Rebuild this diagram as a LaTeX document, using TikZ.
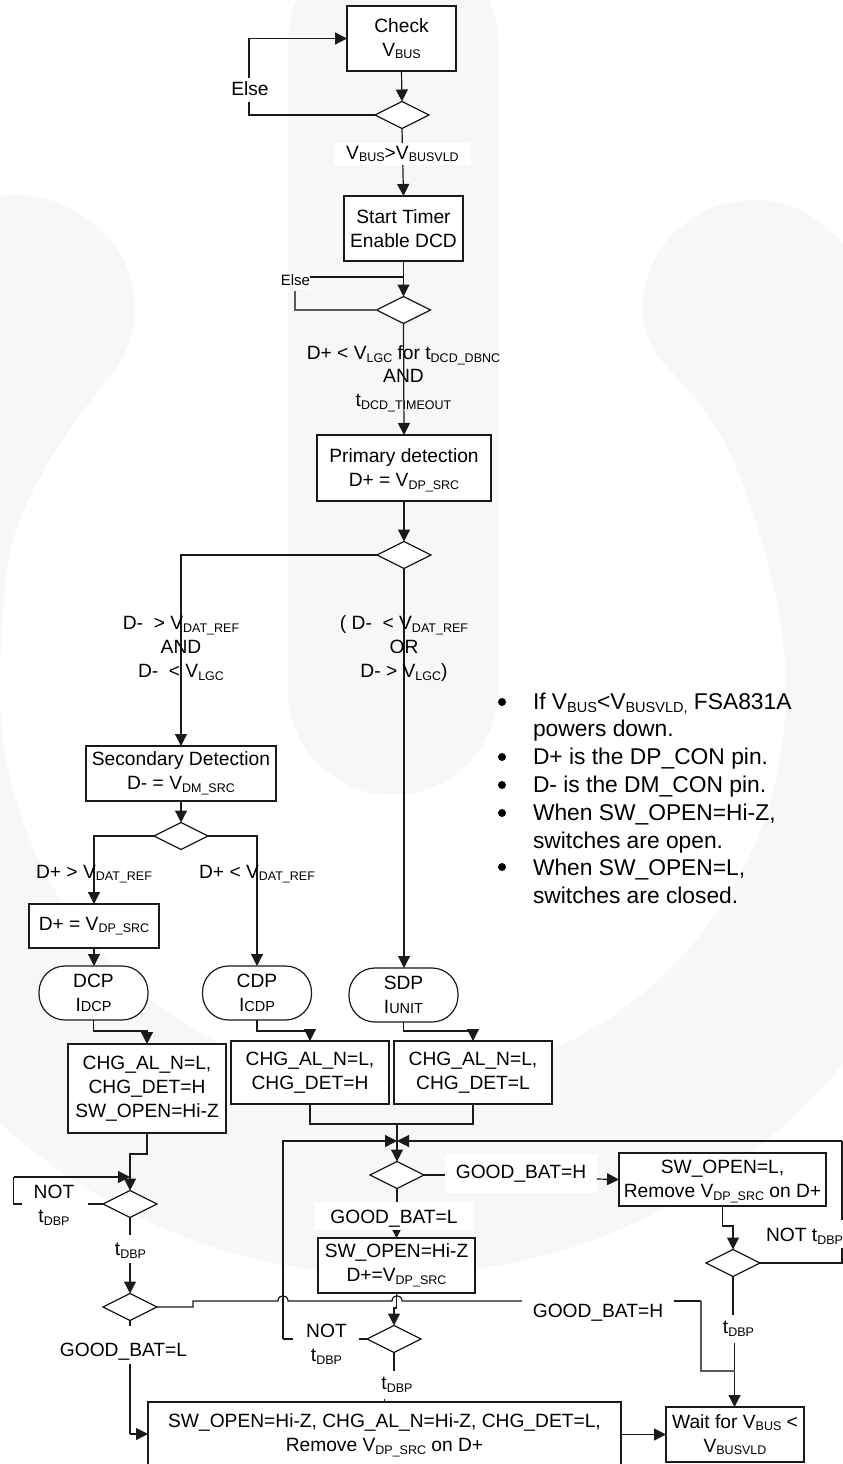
\documentclass[tikz,border=0pt]{standalone}
\usepackage{fontspec}
\setmainfont{Liberation Sans}
\usetikzlibrary{arrows.meta,shapes.geometric}
\definecolor{wm}{HTML}{F7F7F7}
\definecolor{ink}{HTML}{1A1A1A}
\newcommand\lo[1]{\raisebox{-2.6pt}{\fontsize{12.5}{12}\selectfont #1}}
\newcommand\loB[1]{\raisebox{-3pt}{\fontsize{14.5}{12}\selectfont #1}}
\newcommand\cur[1]{{\fontsize{14.5}{12}\selectfont #1}}
\newcommand\dn{\rule{0pt}{18pt}}
\tikzset{
  x=1pt,y=-1pt,
  every node/.style={font=\fontsize{19.2}{24}\selectfont,text=black,align=center,inner sep=0pt,outer sep=0pt},
  boxn/.style={draw=ink,fill=white,line width=1.2pt,rectangle},
  dec/.style={draw=ink,fill=white,line width=1.2pt,diamond,aspect=2,minimum width=54pt,minimum height=27pt},
  term/.style={draw=ink,fill=white,line width=1.2pt,rectangle,rounded corners=26pt,minimum width=109pt,minimum height=54pt},
  conn/.style={draw=ink,line width=1.2pt},
  arr/.style={conn,-{Triangle[length=12pt,width=12pt]}},
  arrs/.style={conn,-{Triangle[length=8pt,width=8pt]}},
  graycon/.style={draw=black!65,line width=1.2pt},
  patch/.style={fill=white,rectangle},
  txt/.style={anchor=center},
  bul/.style={anchor=base west,font=\fontsize{22.8}{26}\selectfont},
  dotb/.style={circle,fill=black,minimum size=8pt},
}
\begin{document}
\begin{tikzpicture}
\useasboundingbox (0,0) rectangle (843,1464);
\begin{scope}
\clip (0,0) rectangle (843,1464);
\fill[white] (0,0) rectangle (843,1464);
% watermark: power symbol
\fill[wm] (-192,197) -- (-5,197) .. controls (40,185) and (135,220) .. (135,310)
  .. controls (135,340) and (120,365) .. (107,380)
  .. controls (70,425) and (25,490) .. (10,550)
  .. controls (3,590) and (0,640) .. (0,690)
  .. controls (0,907) and (176,1083) .. (393,1083)
  .. controls (610,1083) and (786,907) .. (786,690)
  .. controls (786,600) and (750,490) .. (720,433)
  .. controls (705,410) and (685,385) .. (667,367)
  .. controls (650,348) and (643,330) .. (643,307)
  .. controls (643,245) and (695,200) .. (757,200)
  .. controls (795,200) and (825,222) .. (850,252)
  -- (978,252) -- (978,690)
  .. controls (978,1013) and (716,1275) .. (393,1275)
  .. controls (70,1275) and (-192,1013) .. (-192,690) -- cycle;
\fill[wm] (288,42) .. controls (288,-16) and (335,-63) .. (393,-63)
  .. controls (451,-63) and (498,-16) .. (498,42) -- (498,690)
  .. controls (498,748) and (451,795) .. (393,795)
  .. controls (335,795) and (288,748) .. (288,690) -- cycle;

% boxes and decisions
\node[boxn,minimum width=109pt,minimum height=65pt] (check) at (401.5,38.5) {Check\\V\lo{BUS}};
\node[dec] (d1) at (402,115) {};
\node[boxn,minimum width=119pt,minimum height=65pt] (start) at (403.5,228.5) {Start Timer\\Enable DCD};
\node[dec] (d2) at (403.5,310) {};
\node[boxn,minimum width=174pt,minimum height=66pt] (prim) at (404,468) {\dn Primary detection\\D+ = V\lo{DP\_SRC}};
\node[dec] (d3) at (404,555) {};
\node[boxn,minimum width=190pt,minimum height=55pt] (sec) at (181,773.5) {Secondary Detection\\D- = V\lo{DM\_SRC}};
\node[dec] (d4) at (181,836) {};
\node[boxn,minimum width=130pt,minimum height=44pt] (dpsrc) at (94,926) {D+ = V\lo{DP\_SRC}};
\node[term] (dcp) at (93.5,993) {DCP\\I\cur{DCP}};
\node[term] (cdp) at (257,993) {CDP\\I\cur{CDP}};
\node[term] (sdp) at (403.5,995) {SDP\\I\cur{UNIT}};
\node[boxn,minimum width=158pt,minimum height=89pt] (b1) at (147,1088.5) {CHG\_AL\_N=L,\\CHG\_DET=H\\SW\_OPEN=Hi-Z};
\node[boxn,minimum width=158pt,minimum height=63pt] (b2) at (310,1072.5) {CHG\_AL\_N=L,\\CHG\_DET=H};
\node[boxn,minimum width=158pt,minimum height=63pt] (b3) at (473,1072.5) {CHG\_AL\_N=L,\\CHG\_DET=L};
\node[dec] (d5) at (397,1175) {};
\node[boxn,minimum width=207pt,minimum height=53pt] (swl) at (722.5,1179.5) {\dn SW\_OPEN=L,\\Remove V\lo{DP\_SRC} on D+};
\node[dec] (d6) at (733,1263) {};
\node[boxn,minimum width=157pt,minimum height=55pt] (swz) at (396.5,1265.5) {SW\_OPEN=Hi-Z\\D+=V\lo{DP\_SRC}};
\node[dec] (d8) at (130,1204) {};
\node[dec] (d7) at (130,1307) {};
\node[dec] (d9) at (394,1339) {};
\node[boxn,minimum width=473pt,minimum height=66pt] (bot) at (384.5,1435) {SW\_OPEN=Hi-Z, CHG\_AL\_N=Hi-Z, CHG\_DET=L,\\Remove V\lo{DP\_SRC} on D+};
\node[boxn,minimum width=138pt,minimum height=55pt] (wait) at (735,1434.5) {Wait for V\lo{BUS} <\\V\lo{BUSVLD}};

% routing points
\coordinate (e1a) at (249,102);
\coordinate (e1b) at (249,78);
\coordinate (e1c) at (249,38.5);
\coordinate (e2a) at (295,291);
\coordinate (e2b) at (295,310);
\coordinate (e2c) at (309,277);
\coordinate (e2d) at (403.5,277);
\coordinate (merge) at (397,1124);
\coordinate (ret) at (397,1141);
\coordinate (retL) at (283,1141);
\coordinate (retR) at (842,1141);
\coordinate (nr1) at (842,1220);
\coordinate (nr2) at (842,1248);
\coordinate (nr3) at (842,1263);
\coordinate (nl1) at (88,1204);
\coordinate (nl2) at (22,1204);
\coordinate (nl3) at (13.5,1204);
\coordinate (nl4) at (13.5,1177);
\coordinate (nl5) at (130,1177);
\coordinate (nm1) at (359,1339);
\coordinate (nm2) at (293,1339);
\coordinate (nm3) at (283,1339);
\coordinate (t8a) at (130,1235);
\coordinate (t8b) at (130,1263);
\coordinate (gla) at (130,1326);
\coordinate (glb) at (130,1364);
\coordinate (glc) at (130,1434);
\coordinate (t9a) at (394,1371);
\coordinate (t9b) at (384.5,1399);
\coordinate (t9c) at (384.5,1402);
\coordinate (t6a) at (733,1315);
\coordinate (t6b) at (734.5,1343);
\coordinate (gw) at (734.5,1371);
\coordinate (gh1) at (193,1307);
\coordinate (gh2) at (193,1301);
\coordinate (gh3) at (278,1301);
\coordinate (gh4) at (288,1301);
\coordinate (gh5) at (392,1301);
\coordinate (gh6) at (402,1301);
\coordinate (gh7) at (522,1301);
\coordinate (gh8) at (674,1301);
\coordinate (gh9) at (701,1301);
\coordinate (gh10) at (701,1371);

% connectors
\draw[arr] (check.south) -- (d1.north);
\draw[conn] (d1.west) -- (e1a |- d1.west) -- (e1a);
\draw[arr] (e1b) -- (e1c) -- (check.west |- e1c);
\draw[arr] (d1.south) -- (start.north);
\draw[arr] (start.south) -- (d2.north);
\draw[conn] (e2c) -- (e2d);
\draw[graycon] (e2a) -- (e2b) -- (d2.west);
\draw[arr] (d2.south) -- (prim.north);
\draw[arr] (prim.south) -- (d3.north);
\draw[arr] (d3.west) -| (sec.north);
\draw[arr] (d3.south) -- (sdp.north -| d3.south);
\draw[arr] (sec.south) -- (d4.north);
\draw[arr] (d4.west) -| (dpsrc.north);
\draw[arr] (d4.east) -| (cdp.north);
\draw[arr] (dpsrc.south) -- (dcp.north -| dpsrc.south);
\draw[arr] (dcp.south) -- ++(0,11) -| (b1.north);
\draw[arr] (cdp.south) -- ++(0,11) -| (b2.north);
\draw[arr] (sdp.south) -- ++(0,9) -| (b3.north);
\draw[conn] (b2.south) |- (merge) -| (b3.south);
\draw[arr] (merge) -- (d5.north);
\draw[arr] (nm3) -- (retL) -- (ret);
\draw[arr] (retR) -- (ret);
\draw[conn] (nr1) -- (retR);
\draw[conn] (d6.east) -- (nr3) -- (nr2);
\draw[conn] (nm1) -- (d9.west);
\draw[conn] (nm2) -- (nm3);
\draw[arr] (b1.south) -- ++(0,21) -| (d8.north);
\draw[conn] (d8.west) -- (nl1);
\draw[conn] (nl2) -- (nl3) -- (nl4);
\draw[arr] (nl4) -- (nl5);
\draw[conn] (d8.south) -- (t8a);
\draw[arr] (t8b) -- (d7.north);
\draw[conn] (d7.south) -- (gla);
\draw[conn] (glb) -- (glc);
\draw[arr] (glc) -- (bot.west |- glc);
\draw[conn] (d5.south) -- (397,1203);
\draw[conn] (d5.east) -- (450,1175);
\draw[arr] (597,1179) -- (swl.west);
\draw[arr] (swl.south) -- ++(0,20) -| (d6.north);
\draw[conn] (d6.south) -- (t6a);
\draw[arr] (t6b) -- (wait.north -| t6b);
\draw[arr] (swz.south) -- ++(0,15) -| (d9.north);
\draw[conn] (d9.south) -- (t9a);
\draw[conn] (t9b) -- (t9c);
\draw[arr] (bot.east |- wait.west) -- (wait.west);
\draw[conn] (d7.east) -- (gh1) -- (gh2) -- (gh3)
  .. controls (278,1294) and (288,1294) .. (gh4) -- (gh5)
  .. controls (392,1294) and (402,1294) .. (gh6) -- (gh7);
\draw[conn] (gh8) -- (gh9);
\draw[graycon] (gh9) -- (gh10) -- (gw);

% labels
\node[patch,minimum width=137pt,minimum height=22pt] (lv) at (402.5,154) {V\lo{BUS}>V\lo{BUSVLD}};
\node[txt] (le1) at (250,89) {Else};
\node[patch,minimum width=29pt,minimum height=17pt,font=\fontsize{15}{17}\selectfont] (le2) at (295.5,280) {Else};
\node[txt] (ldcd) at (403.5,379) {D+ < V\lo{LGC} for t\lo{DCD\_DBNC}\\[-1pt]AND\\t\lo{DCD\_TIMEOUT}};
\node[txt] (ldl) at (181,648.5) {D-\ \ > V\lo{DAT\_REF}\\AND\\D-\ \ < V\lo{LGC}};
\node[txt] (ldr) at (404,648.5) {( D-\ \ < V\lo{DAT\_REF}\\OR\\D- > V\lo{LGC})};
\node[txt] (ldp1) at (94,874) {D+ > V\lo{DAT\_REF}};
\node[txt] (ldp2) at (257,874) {D+ < V\lo{DAT\_REF}};
\node[patch,minimum width=152pt,minimum height=39pt] (lgh) at (521,1173.5) {GOOD\_BAT=H};
\node[patch,minimum width=158pt,minimum height=28pt] (lgl) at (394,1216) {\dn GOOD\_BAT=L};
\node[txt] (lgh2) at (598,1313) {GOOD\_BAT=H};
\node[txt] (lgl2) at (123.5,1351.5) {GOOD\_BAT=L};
\node[txt] (lnot1) at (54,1205) {NOT\\t\lo{DBP}};
\node[txt] (lnot2) at (326.5,1344) {NOT\\t\lo{DBP}};
\node[txt,anchor=east] (lnot3) at (843,1236) {NOT t\lo{DBP}};
\node[txt] (lt1) at (130.5,1251) {t\lo{DBP}};
\node[txt] (lt2) at (397,1385) {t\lo{DBP}};
\node[txt] (lt3) at (738.5,1329) {t\lo{DBP}};
\draw[arrs] (lgl.south -| swz.north) -- (swz.north);

% notes
\foreach \nm/\yy in {a/702,b/757,c/785,d/813,e/867}{
  \node[dotb] (dot\nm) at (502,\yy) {};
}
\node[bul] (n1) at (533,709) {If V\loB{BUS}<V\loB{BUSVLD,} FSA831A};
\node[bul] (n2) at (533,736) {powers down.};
\node[bul] (n3) at (533,764) {D+ is the DP\_CON pin.};
\node[bul] (n4) at (533,792) {D- is the DM\_CON pin.};
\node[bul] (n5) at (533,820) {When SW\_OPEN=Hi-Z,};
\node[bul] (n6) at (533,848) {switches are open.};
\node[bul] (n7) at (533,875) {When SW\_OPEN=L,};
\node[bul] (n8) at (533,903) {switches are closed.};
\end{scope}
\end{tikzpicture}
\end{document}
